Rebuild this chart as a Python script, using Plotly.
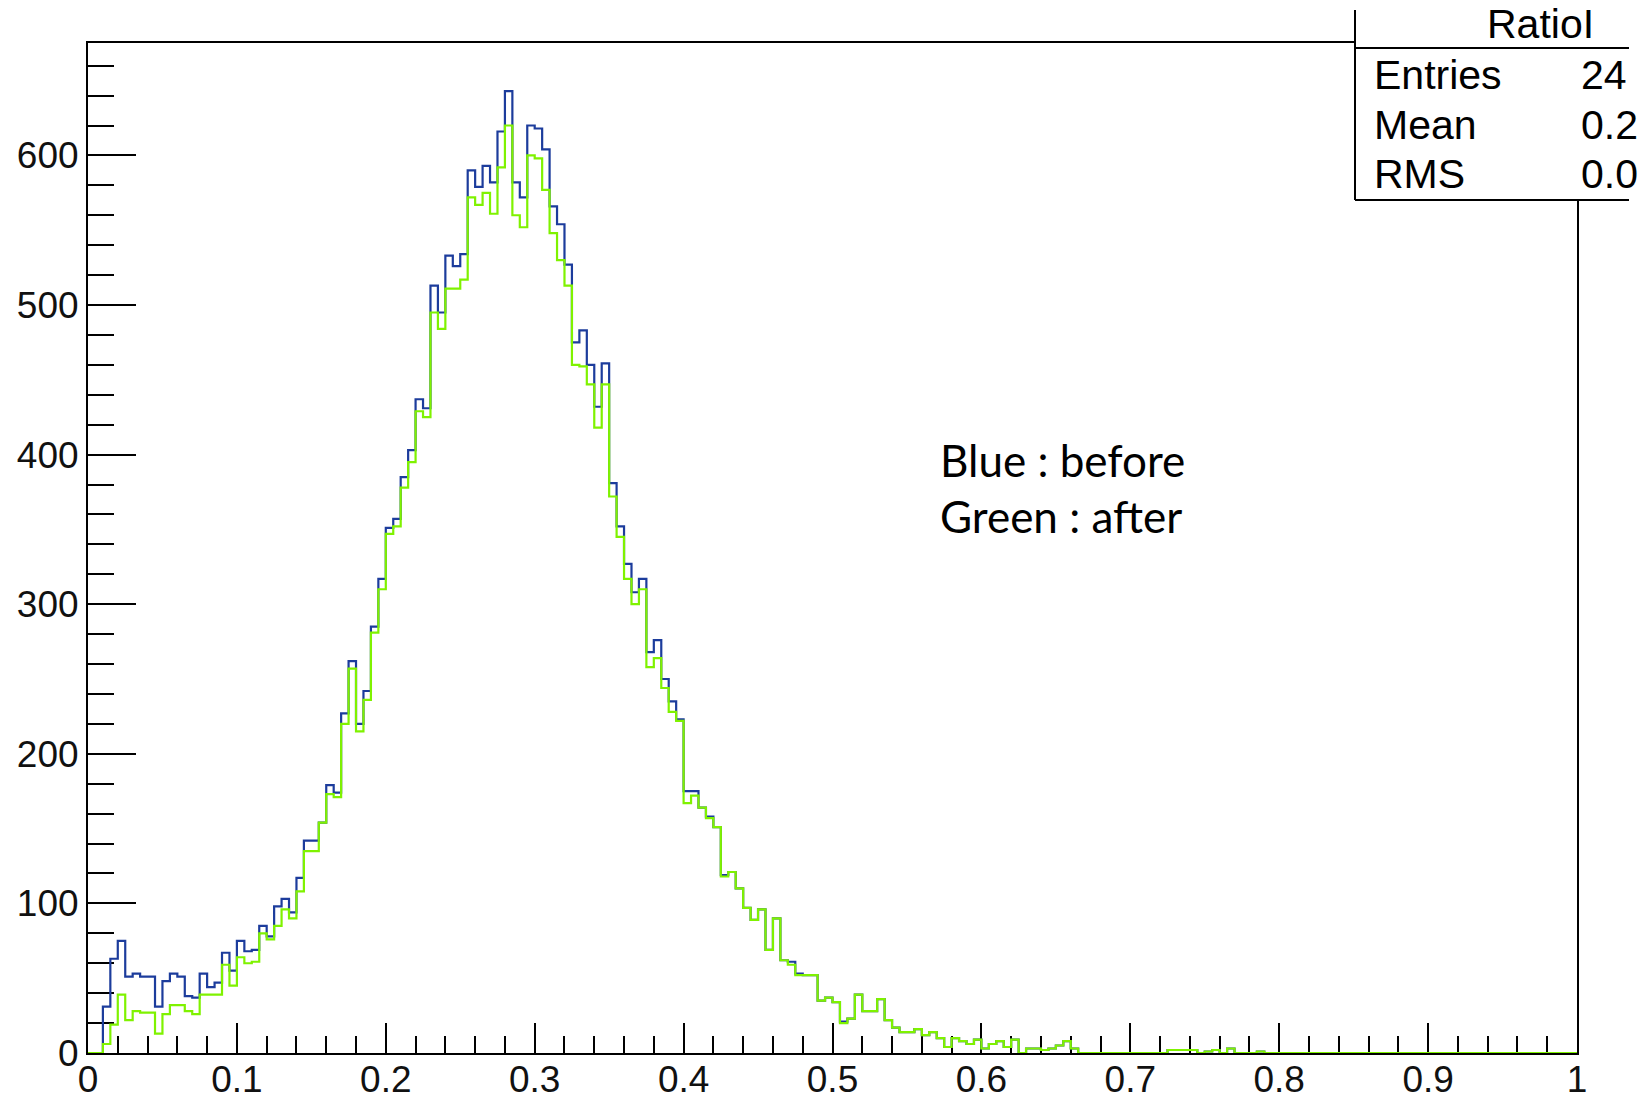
import numpy as np
import plotly.graph_objects as go

# ---------------- data (bin contents, 200 bins of width 0.005 on [0,1]) ----------------
bin_edges_lo = 0.0
bin_edges_hi = 1.0
n_bins = 200

blue_before = [
    0, 0, 31, 63, 75, 51, 53, 51, 51, 31,
    48, 53, 51, 38, 37, 53, 44, 47, 67, 55,
    75, 68, 69, 85, 78, 98, 103, 94, 117, 142,
    142, 154, 179, 174, 227, 262, 220, 242, 285, 317,
    351, 357, 385, 403, 437, 431, 513, 495, 533, 526,
    534, 590, 579, 593, 582, 616, 643, 582, 572, 620,
    618, 604, 566, 554, 527, 475, 483, 460, 432, 461,
    381, 352, 327, 308, 317, 268, 276, 250, 235, 223,
    175, 175, 164, 158, 151, 119, 121, 110, 97, 89,
    96, 69, 90, 62, 61, 53, 52, 52, 35, 37,
    34, 21, 23, 39, 28, 28, 36, 22, 17, 14,
    14, 16, 12, 14, 10, 4, 10, 8, 6, 9,
    3, 6, 8, 4, 9, 0, 3, 3, 2, 3,
    5, 8, 3, 0, 0, 0, 0, 0, 0, 0,
    0, 0, 0, 0, 0, 2, 2, 2, 2, 0,
    1, 2, 0, 3, 0, 0, 0, 1, 0, 0,
    0, 0, 0, 0, 0, 0, 0, 0, 0, 0,
    0, 0, 0, 0, 0, 0, 0, 0, 0, 0,
    0, 0, 0, 0, 0, 0, 0, 0, 0, 0,
    0, 0, 0, 0, 0, 0, 0, 0, 0, 0,
]

green_after = [
    0, 0, 6, 19, 39, 22, 28, 27, 27, 13,
    26, 32, 32, 28, 26, 39, 39, 39, 59, 45,
    64, 60, 61, 80, 76, 85, 96, 90, 108, 135,
    135, 154, 173, 171, 220, 257, 215, 236, 281, 310,
    347, 352, 378, 395, 429, 425, 495, 484, 511, 511,
    517, 572, 567, 575, 561, 592, 620, 560, 552, 600,
    598, 577, 548, 530, 513, 460, 459, 447, 418, 447,
    372, 345, 317, 300, 310, 258, 264, 244, 228, 222,
    167, 172, 164, 157, 151, 118, 121, 110, 97, 89,
    96, 69, 90, 62, 59, 52, 52, 52, 35, 37,
    34, 20, 23, 39, 28, 28, 36, 22, 17, 14,
    14, 16, 12, 14, 10, 4, 10, 8, 6, 9,
    3, 6, 8, 4, 9, 0, 3, 3, 2, 3,
    5, 8, 3, 0, 0, 0, 0, 0, 0, 0,
    0, 0, 0, 0, 0, 2, 2, 2, 2, 0,
    1, 2, 0, 3, 0, 0, 0, 1, 0, 0,
    0, 0, 0, 0, 0, 0, 0, 0, 0, 0,
    0, 0, 0, 0, 0, 0, 0, 0, 0, 0,
    0, 0, 0, 0, 0, 0, 0, 0, 0, 0,
    0, 0, 0, 0, 0, 0, 0, 0, 0, 0,
]

hist_name = "RatioI"
stat_labels = ["Entries", "Mean", "RMS"]
legend_lines = ["Blue : before", "Green : after"]

# ---------------- figure geometry ----------------
W, H = 1645, 1101
ML, MR, MT, MB = 88, 68, 43, 48
PW, PH = W - ML - MR, H - MT - MB


def px(x):
    return (x - ML) / PW


def py(y):
    return (H - MB - y) / PH


edges = np.linspace(bin_edges_lo, bin_edges_hi, n_bins + 1)
xs = edges
blue_y = list(blue_before) + [blue_before[-1]]
green_y = list(green_after) + [green_after[-1]]

# stats from the "before" histogram (the original box is cropped at the page edge,
# so only the leading characters are visible)
centers = 0.5 * (edges[:-1] + edges[1:])
bb = np.array(blue_before, dtype=float)
entries = int(bb.sum())
mean = float((bb * centers).sum() / bb.sum())
rms = float(np.sqrt((bb * (centers - mean) ** 2).sum() / bb.sum()))
stat_values = [f"{entries}"[:2], f"{mean:.4f}"[:3], f"{rms:.5f}"[:3]]

fig = go.Figure()
fig.add_trace(go.Scatter(x=xs, y=blue_y, mode="lines",
                         line=dict(shape="hv", color="#1c3c9c", width=2.2),
                         showlegend=False, hoverinfo="skip"))
fig.add_trace(go.Scatter(x=xs, y=green_y, mode="lines",
                         line=dict(shape="hv", color="#7ff200", width=2.2),
                         showlegend=False, hoverinfo="skip"))

ymax = 1.05 * max(blue_before)
tickfont = dict(family="Liberation Sans, Arial, sans-serif", size=37, color="#111")

fig.update_layout(
    width=W, height=H,
    margin=dict(l=ML, r=MR, t=MT, b=MB, pad=0),
    paper_bgcolor="white", plot_bgcolor="white",
    xaxis=dict(range=[0, 1], showgrid=False, zeroline=False, automargin=False,
               showline=True, linecolor="black", linewidth=2, mirror=True,
               ticks="inside", ticklen=30, tickwidth=2, tickcolor="black",
               dtick=0.1, tick0=0, tickfont=tickfont, layer="below traces",
               ticklabelstandoff=-7,
               minor=dict(ticks="inside", ticklen=17, tickwidth=2, tickcolor="black", dtick=0.02)),
    yaxis=dict(range=[0, ymax], showgrid=False, zeroline=False, automargin=False,
               showline=True, linecolor="black", linewidth=2, mirror=True,
               ticks="inside", ticklen=48, tickwidth=2, tickcolor="black",
               dtick=100, tick0=0, tickfont=tickfont, layer="below traces",
               minor=dict(ticks="inside", ticklen=26, tickwidth=2, tickcolor="black", dtick=20)),
)

# stats box (cropped at the top and on the right, as in the original)
box_l, box_r, box_t, box_b, box_sep = 1355, 1629, 10, 200, 48
fig.add_shape(type="rect", xref="paper", yref="paper",
              x0=px(box_l), x1=px(box_r), y0=py(box_b), y1=py(box_t),
              line=dict(width=0), fillcolor="white", layer="above")
for (x0, y0, x1, y1) in [(box_l, box_t, box_l, box_b),
                         (box_l, box_b, box_r, box_b),
                         (box_l, box_sep, box_r, box_sep)]:
    fig.add_shape(type="line", xref="paper", yref="paper",
                  x0=px(x0), x1=px(x1), y0=py(y0), y1=py(y1),
                  line=dict(color="black", width=2), layer="above")

sfont = dict(family="Liberation Sans, Arial, sans-serif", size=41, color="black")
fig.add_annotation(xref="paper", yref="paper", x=px(1540), y=py(24), text=hist_name,
                   showarrow=False, xanchor="center", yanchor="middle", font=sfont)
row_y = [75, 125, 174]
for lab, val, yy in zip(stat_labels, stat_values, row_y):
    fig.add_annotation(xref="paper", yref="paper", x=px(1372), y=py(yy), text=lab,
                       showarrow=False, xanchor="left", yanchor="middle", font=sfont)
    fig.add_annotation(xref="paper", yref="paper", x=px(1579), y=py(yy), text=val,
                       showarrow=False, xanchor="left", yanchor="middle", font=sfont)

lfont = dict(family="Lato, Carlito, sans-serif", size=44, color="black")
for txt, yy in zip(legend_lines, [460, 516]):
    fig.add_annotation(xref="paper", yref="paper", x=px(938), y=py(yy), text=txt,
                       showarrow=False, xanchor="left", yanchor="middle", font=lfont)

fig.write_html("out.html")
